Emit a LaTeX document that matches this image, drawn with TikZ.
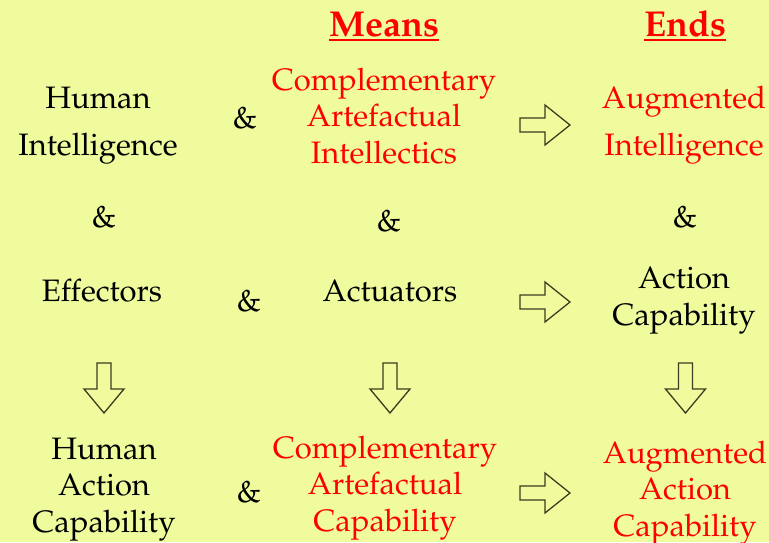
\documentclass[tikz,border=0pt]{standalone}
\usepackage[T1]{fontenc}
\renewcommand{\rmdefault}{ppl}
\definecolor{bg}{RGB}{240,251,158}
\definecolor{arr}{RGB}{60,60,30}
\begin{document}
\begin{tikzpicture}[x=1pt,y=-1pt,
 txt/.style={font=\fontsize{31}{36.5}\selectfont, align=center, anchor=base, inner sep=0pt},
 redtxt/.style={txt, text=red},
 headtxt/.style={font=\fontsize{36}{40}\selectfont\bfseries, text=red, anchor=base, inner sep=0pt},
 blockarrow/.style={draw=arr, line width=1.3pt, line join=miter},
 rarr/.pic={\draw[blockarrow] (-25,-7) -- (0,-7) -- (0,-20) -- (25,0) -- (0,20) -- (0,7) -- (-25,7) -- cycle;},
 darr/.pic={\draw[blockarrow] (-7,-25) -- (7,-25) -- (7,1) -- (20,1) -- (0,25) -- (-20,1) -- (-7,1) -- cycle;}
]
\fill[bg] (0,0) rectangle (769,542);
\useasboundingbox (0,0) rectangle (769,542);
\node[headtxt] (means) at (384,36) {Means};
\node[headtxt] (ends) at (685,36) {Ends};
\draw[red, line width=2pt] ([yshift=-4pt]means.base west) -- ([yshift=-4pt]means.base east);
\draw[red, line width=2pt] ([yshift=-4pt]ends.base west) -- ([yshift=-4pt]ends.base east);
\node[txt] (hi) at (98,155) {Human\\[10.5pt]Intelligence};
\node[txt] (amp1) at (245,128) {\&};
\node[redtxt] (cai) at (384,163) {Complementary\\Artefactual\\Intellectics};
\pic at (545,125) {rarr};
\node[redtxt] (ai) at (684,155) {Augmented\\[10.5pt]Intelligence};
\node[txt] (amp2) at (104,227) {\&};
\node[txt] (amp3) at (389,231) {\&};
\node[txt] (amp4) at (685,227) {\&};
\node[txt] (eff) at (102,301) {Effectors};
\node[txt] (amp5) at (249,311) {\&};
\node[txt] (act) at (390,301) {Actuators};
\pic at (545,302) {rarr};
\node[txt] (ac) at (684,325) {Action\\Capability};
\pic at (104,388) {darr};
\pic at (390,388) {darr};
\pic at (685.5,388) {darr};
\node[txt] (hac) at (104,532) {Human\\Action\\Capability};
\node[txt] (amp6) at (249,502) {\&};
\node[redtxt] (cac) at (385,531) {Complementary\\Artefactual\\Capability};
\pic at (545,493) {rarr};
\node[redtxt] (aac) at (685,536) {Augmented\\Action\\Capability};
\end{tikzpicture}
\end{document}
